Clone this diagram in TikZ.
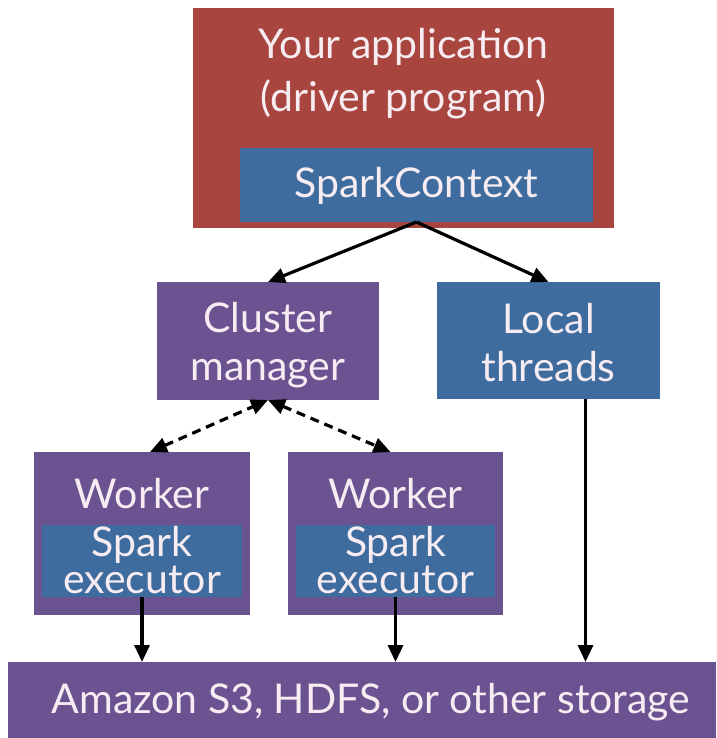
\documentclass[tikz,border=0pt]{standalone}
\usepackage{fontspec}
\setmainfont{Lato}
\usetikzlibrary{arrows.meta}
\definecolor{appred}{HTML}{A8453E}
\definecolor{sblue}{HTML}{3E6C9E}
\definecolor{spurple}{HTML}{6B5290}
\definecolor{txt}{HTML}{F6ECF2}
\begin{document}
\begin{tikzpicture}[x=1pt,y=-1pt,
  box/.style={inner sep=0pt, outer sep=0pt, draw=none},
  lbl/.style={inner sep=0pt, text=txt, align=center, font=\fontsize{41}{51}\selectfont},
  arr/.style={line width=3.2pt, -{Triangle[length=17pt,width=15pt]}},
  darr/.style={line width=3.2pt, dash pattern=on 9pt off 6pt, {Triangle[length=17pt,width=15pt]}-{Triangle[length=17pt,width=15pt]}}]
\useasboundingbox (0,0) rectangle (716,738);
\fill[white] (0,0) rectangle (716,738);
% driver
\node[box, fill=appred, minimum width=421pt, minimum height=220pt] (app) at (403.5,118) {};
\node[lbl, font=\fontsize{41}{53}\selectfont] (apptxt) at (403.5,74) {Your application\\(driver program)};
\node[box, fill=sblue, minimum width=353pt, minimum height=74pt] (sc) at (416.5,185) {};
\node[lbl] (sctxt) at (416.5,186) {SparkContext};
% cluster manager and local threads
\node[box, fill=spurple, minimum width=222pt, minimum height=118pt] (cm) at (268,341) {};
\node[lbl, font=\fontsize{41}{48}\selectfont] (cmtxt) at (268,345) {Cluster\\manager};
\node[box, fill=sblue, minimum width=223pt, minimum height=117pt] (lt) at (548.5,340.5) {};
\node[lbl, font=\fontsize{41}{48}\selectfont] (lttxt) at (548.5,343) {Local\\threads};
% workers
\node[box, fill=spurple, minimum width=216pt, minimum height=163pt] (w1) at (142,533.5) {};
\node[box, fill=sblue, minimum width=200pt, minimum height=72pt] (e1) at (142,561) {};
\node[lbl] (w1txt) at (142,494) {Worker};
\node[lbl, font=\fontsize{41}{37}\selectfont] (e1txt) at (142,560) {Spark\\executor};
\node[box, fill=spurple, minimum width=215pt, minimum height=163pt] (w2) at (395.5,533.5) {};
\node[box, fill=sblue, minimum width=199pt, minimum height=72pt] (e2) at (395.5,561) {};
\node[lbl] (w2txt) at (395.5,494) {Worker};
\node[lbl, font=\fontsize{41}{37}\selectfont] (e2txt) at (395.5,560) {Spark\\executor};
% storage
\node[box, fill=spurple, minimum width=708pt, minimum height=76pt] (st) at (362,700) {};
\node[lbl] (sttxt) at (371,702) {Amazon S3, HDFS, or other storage};
% connectors
\draw[arr] (sc.south) -- (cm.north);
\draw[arr] (sc.south) -- (lt.north);
\draw[darr] ([xshift=8pt]w1.north) -- (cm.south);
\draw[darr] (cm.south) -- ([xshift=-5pt]w2.north);
\draw[arr] (e1.south) -- (e1.south |- st.north);
\draw[arr] (e2.south) -- (e2.south |- st.north);
\draw[arr] ([xshift=37pt]lt.south) -- ([xshift=37pt]lt.south |- st.north);
\end{tikzpicture}
\end{document}
